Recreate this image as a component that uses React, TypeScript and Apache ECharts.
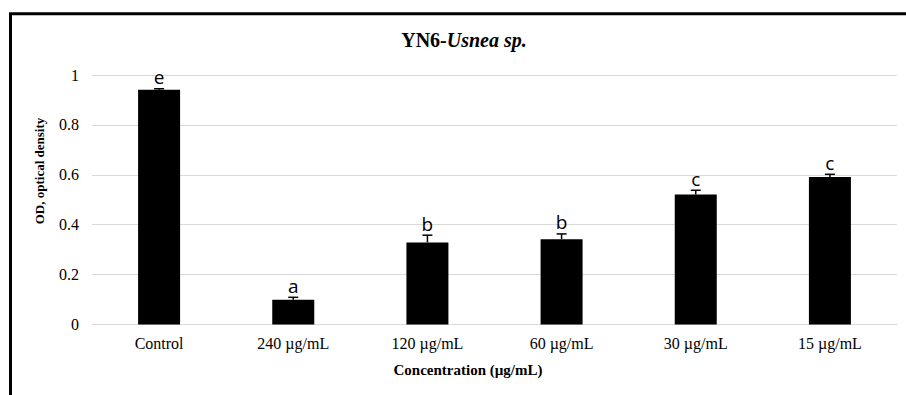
import React, { useEffect, useRef } from "react";
import * as echarts from "echarts";

const categories = ["Control", "240 µg/mL", "120 µg/mL", "60 µg/mL", "30 µg/mL", "15 µg/mL"];
const odValues = [0.941, 0.099, 0.329, 0.342, 0.521, 0.591];
const odErrors = [0.004, 0.010, 0.029, 0.021, 0.017, 0.011];
const groupLetters = ["e", "a", "b", "b", "c", "c"];
const yTicks = { min: 0, max: 1, interval: 0.2 };

const SERIF = "Liberation Serif";
const SANS = "Open Sans";

export default function App() {
  const ref = useRef<HTMLDivElement>(null);
  useEffect(() => {
    if (!ref.current) return;
    const chart = echarts.init(ref.current, null, { renderer: "svg" });
    chart.setOption({
      animation: false,
      backgroundColor: "#ffffff",
      grid: { left: 92, right: 9, top: 75, bottom: 70.5, containLabel: false },
      xAxis: {
        type: "category",
        data: categories,
        axisLine: { show: true, lineStyle: { color: "#d9d9d9", width: 1 } },
        axisTick: { show: false },
        axisLabel: { color: "#000", fontFamily: SERIF, fontSize: 16, margin: 11 },
      },
      yAxis: {
        type: "value",
        min: yTicks.min,
        max: yTicks.max,
        interval: yTicks.interval,
        axisLine: { show: false },
        axisTick: { show: false },
        axisLabel: { color: "#000", fontFamily: SERIF, fontSize: 16, margin: 13 },
        splitLine: { lineStyle: { color: "#d9d9d9", width: 1 } },
      },
      series: [
        {
          type: "bar",
          data: odValues,
          barWidth: 42,
          itemStyle: { color: "#000000" },
        },
        {
          type: "custom",
          data: categories.map((_, i) => [i, odValues[i], odErrors[i]]),
          encode: { x: 0, y: 1 },
          z: 5,
          renderItem: (params: any, api: any) => {
            const idx = api.value(0);
            const v = api.value(1);
            const e = api.value(2);
            const bot = api.coord([idx, v]);
            const top = api.coord([idx, v + e]);
            const capHalf = 5;
            return {
              type: "group",
              children: [
                {
                  type: "line",
                  shape: { x1: top[0], y1: bot[1], x2: top[0], y2: top[1] },
                  style: { stroke: "#000", lineWidth: 1.5 },
                },
                {
                  type: "line",
                  shape: { x1: top[0] - capHalf, y1: top[1], x2: top[0] + capHalf, y2: top[1] },
                  style: { stroke: "#000", lineWidth: 1.5 },
                },
                {
                  type: "text",
                  x: top[0],
                  y: top[1] - 2,
                  style: {
                    text: groupLetters[params.dataIndex],
                    fill: "#000",
                    fontFamily: SANS,
                    fontSize: 19,
                    align: "center",
                    verticalAlign: "bottom",
                  },
                },
              ],
            };
          },
        },
      ],
      graphic: [
        {
          type: "rect",
          shape: { x: 10.5, y: 13.8, width: 2000, height: 2000 },
          style: { fill: "none", stroke: "#000", lineWidth: 3 },
          silent: true,
        },
        {
          type: "text",
          x: 464,
          y: 40,
          style: {
            text: "{a|YN6-}{b|Usnea sp.}",
            align: "center",
            verticalAlign: "middle",
            rich: {
              a: { fontFamily: SERIF, fontSize: 20, fontWeight: "bold", fill: "#000" },
              b: { fontFamily: SERIF, fontSize: 20, fontWeight: "bold", fontStyle: "italic", fill: "#000" },
            },
          },
        },
        {
          type: "text",
          x: 468,
          y: 370,
          style: {
            text: "Concentration (µg/mL)",
            fontFamily: SERIF,
            fontWeight: "bold",
            fontSize: 15,
            fill: "#000",
            align: "center",
            verticalAlign: "middle",
          },
        },
        {
          type: "text",
          x: 39,
          y: 171,
          rotation: Math.PI / 2,
          style: {
            text: "OD, optical density",
            fontFamily: SERIF,
            fontWeight: "bold",
            fontSize: 13,
            fill: "#000",
            align: "center",
            verticalAlign: "middle",
          },
        },
      ],
    });
    return () => chart.dispose();
  }, []);
  return (
    <div
      ref={ref}
      style={{ position: "absolute", left: 0, top: 0, width: 906, height: 395 }}
    />
  );
}
